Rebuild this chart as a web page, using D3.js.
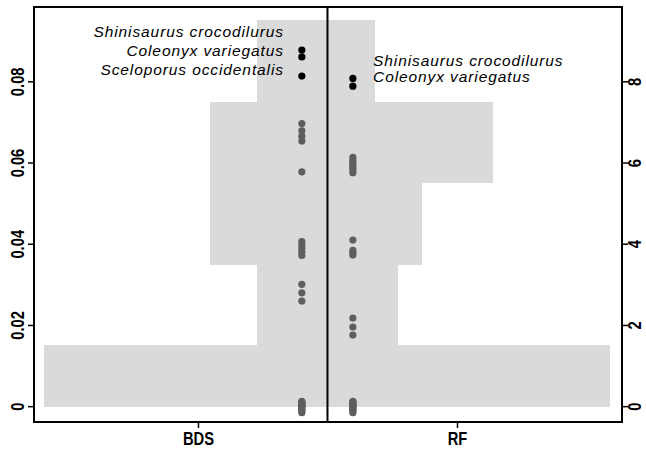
<!DOCTYPE html>
<html>
<head>
<meta charset="utf-8">
<script src="https://cdn.jsdelivr.net/npm/d3@7"></script>
<style>
  body { margin: 0; background: #fff; }
  .tick text { font-family: "Liberation Sans", Arial, sans-serif; font-weight: bold; }
  .species { font-family: "Liberation Sans", Arial, sans-serif; font-style: italic; }
</style>
</head>
<body>
<div id="chart"></div>
<script>
// BDS values (left axis), first three are the highlighted species
var bdsValues = [0.0877, 0.0860, 0.0813,
    0.0696, 0.0678, 0.0665, 0.0653, 0.0577,
    0.0405, 0.0396, 0.0388, 0.0379, 0.0371,
    0.0300, 0.0279, 0.0259,
    0.0012, 0.0010, 0.0008, 0.0005, 0.0003, 0.0001, -0.0001, -0.0003, -0.0006, -0.0009, -0.0012, -0.0016];
// RF values (right axis), first two are the highlighted species
var rfValues = [8.07, 7.88,
    6.13, 6.05, 5.98, 5.93, 5.88, 5.82, 5.75,
    4.09, 3.84, 3.78, 3.72,
    2.17, 1.95, 1.75,
    0.12, 0.10, 0.08, 0.05, 0.03, 0.01, -0.01, -0.03, -0.06, -0.09, -0.12, -0.16];
var bdsHighlight = 3;
var rfHighlight = 2;

var bdsLabels = ["Shinisaurus crocodilurus", "Coleonyx variegatus", "Sceloporus occidentalis"];
var bdsLabelY = [0.0909, 0.0862, 0.0815];
var rfLabels = ["Shinisaurus crocodilurus", "Coleonyx variegatus"];
var rfLabelY = [8.37, 7.99];

var categories = ["BDS", "RF"];
var leftTicks = [0, 0.02, 0.04, 0.06, 0.08];
var rightTicks = [0, 2, 4, 6, 8];
var bdsThresholds = [0.015, 0.035, 0.055, 0.075];
var rfThresholds = [1.5, 3.5, 5.5, 7.5];

var width = 646, height = 452;
var margin = {top: 7, right: 24, bottom: 30, left: 34};

var svg = d3.select("#chart").append("svg")
    .attr("width", width)
    .attr("height", height);

// scales
var x = d3.scaleLinear().domain([0.367, 2.637]).range([margin.left, width - margin.right]);
var y = d3.scaleLinear().domain([-0.0039, 0.0983]).range([height - margin.bottom, margin.top]);
var yR = d3.scaleLinear().domain([-0.39, 9.83]).range([height - margin.bottom, margin.top]);
var w = d3.scaleLinear().domain([0, 12]).range([0, 283]);
var mid = x(1.5);

// histograms
var bdsBins = d3.bin().domain([-0.005, 0.095]).thresholds(bdsThresholds)(bdsValues);
var rfBins = d3.bin().domain([-0.5, 9.5]).thresholds(rfThresholds)(rfValues);

var hist = svg.append("g").attr("shape-rendering", "crispEdges");
hist.selectAll("rect.bds")
    .data(bdsBins)
    .enter().append("rect")
        .attr("class", "bds")
        .attr("x", function(d){ return mid - w(d.length); })
        .attr("width", function(d){ return w(d.length) + 1; })
        .attr("y", function(d){ return y(d.x1); })
        .attr("height", function(d){ return y(Math.max(d.x0, 0)) - y(d.x1) + 0.5; })
        .attr("fill", "#dadada");

hist.selectAll("rect.rf")
    .data(rfBins)
    .enter().append("rect")
        .attr("class", "rf")
        .attr("x", mid)
        .attr("width", function(d){ return w(d.length); })
        .attr("y", function(d){ return yR(d.x1); })
        .attr("height", function(d){ return yR(Math.max(d.x0, 0)) - yR(d.x1) + 0.5; })
        .attr("fill", "#dadada");

// points (gray first, highlighted on top)
var dots = svg.append("g");
dots.selectAll("circle.bds")
    .data(bdsValues.map(function(v, i){ return {v: v, hi: i < bdsHighlight}; }).reverse())
    .enter().append("circle")
        .attr("cx", x(1.401))
        .attr("cy", function(d){ return y(d.v); })
        .attr("r", 3.6)
        .attr("fill", function(d){ return d.hi ? "#000" : "#5e5e5e"; });
dots.selectAll("circle.rf")
    .data(rfValues.map(function(v, i){ return {v: v, hi: i < rfHighlight}; }).reverse())
    .enter().append("circle")
        .attr("cx", x(1.598))
        .attr("cy", function(d){ return yR(d.v); })
        .attr("r", 3.6)
        .attr("fill", function(d){ return d.hi ? "#000" : "#5e5e5e"; });

// species labels
svg.append("g").selectAll("text")
    .data(bdsLabels)
    .enter().append("text")
        .attr("class", "species")
        .attr("x", x(1.332))
        .attr("y", function(d, i){ return y(bdsLabelY[i]); })
        .attr("text-anchor", "end")
        .attr("font-size", 15.5)
        .attr("letter-spacing", 0.9)
        .text(function(d){ return d; });
svg.append("g").selectAll("text")
    .data(rfLabels)
    .enter().append("text")
        .attr("class", "species")
        .attr("x", x(1.676))
        .attr("y", function(d, i){ return yR(rfLabelY[i]); })
        .attr("font-size", 15.5)
        .attr("letter-spacing", 0.9)
        .text(function(d){ return d; });

// middle divider
svg.append("line")
    .attr("x1", mid).attr("x2", mid)
    .attr("y1", margin.top).attr("y2", height - margin.bottom)
    .attr("stroke", "#000")
    .attr("stroke-width", 2);

// axes
var leftAxis = svg.append("g")
    .attr("transform", "translate(" + margin.left + ",0)")
    .call(d3.axisLeft(y).tickValues(leftTicks).tickSize(6).tickPadding(0)
        .tickFormat(function(d){ return d === 0 ? "0" : d3.format(".2f")(d); }));
leftAxis.select(".domain").remove();
leftAxis.selectAll(".tick line").attr("stroke-width", 1.5);
leftAxis.selectAll(".tick text")
    .attr("transform", "rotate(-90) scale(0.82,1)")
    .attr("x", 0).attr("y", -10).attr("dy", 0)
    .attr("text-anchor", "middle")
    .attr("font-size", 18);

var rightAxis = svg.append("g")
    .attr("transform", "translate(" + (width - margin.right) + ",0)")
    .call(d3.axisRight(yR).tickValues(rightTicks).tickSize(6).tickPadding(0));
rightAxis.select(".domain").remove();
rightAxis.selectAll(".tick line").attr("stroke-width", 1.5);
rightAxis.selectAll(".tick text")
    .attr("transform", "rotate(-90) scale(0.82,1)")
    .attr("x", 0).attr("y", 19).attr("dy", 0)
    .attr("text-anchor", "middle")
    .attr("font-size", 18);

var bottomAxis = svg.append("g")
    .attr("transform", "translate(0," + (height - margin.bottom) + ")")
    .call(d3.axisBottom(x).tickValues([1, 2]).tickSize(6).tickPadding(4)
        .tickFormat(function(d){ return categories[d - 1]; }));
bottomAxis.select(".domain").remove();
bottomAxis.selectAll(".tick line").attr("stroke-width", 1.5);
bottomAxis.selectAll(".tick text")
    .attr("transform", "scale(0.82,1)")
    .attr("font-size", 18).attr("dy", "0.75em");

// frame
svg.append("rect")
    .attr("x", margin.left).attr("y", margin.top)
    .attr("width", width - margin.left - margin.right)
    .attr("height", height - margin.top - margin.bottom)
    .attr("fill", "none")
    .attr("stroke", "#000")
    .attr("stroke-width", 2);
</script>
</body>
</html>
